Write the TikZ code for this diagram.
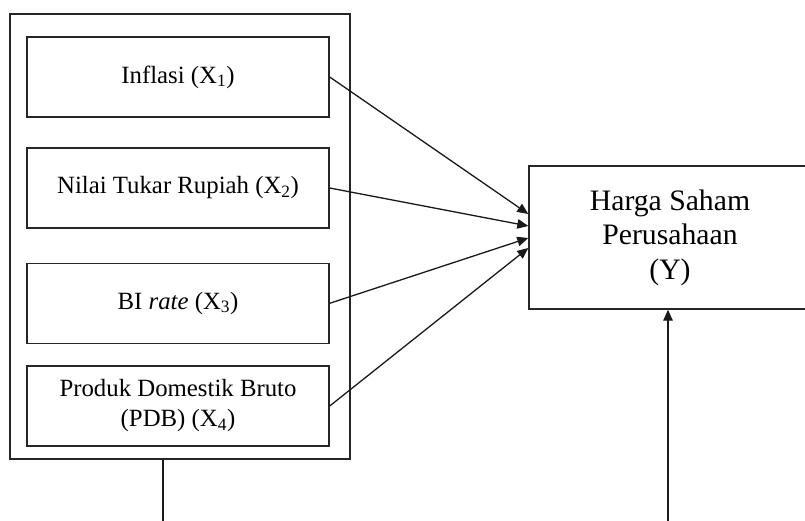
\documentclass[tikz,border=0pt]{standalone}
\usepackage{fontspec}
\setmainfont{Liberation Serif}
\usetikzlibrary{calc,arrows.meta}
\begin{document}
\begin{tikzpicture}[x=1pt,y=-1pt,
  box/.style={draw=black!85,line width=1.4pt,rectangle,inner sep=0pt,align=center},
  varbox/.style={box,minimum width=302pt,minimum height=80pt,font=\fontsize{24.8}{30}\selectfont},
  link/.style={draw=black!90,line width=1.3pt,-{Triangle[length=11pt,width=9.5pt]}}]
\useasboundingbox (0,0) rectangle (805,521);
\clip (0,0) rectangle (805,521);
\node[box,minimum width=340pt,minimum height=445pt] (outer) at (180,236.5) {};
\node[varbox] (b1) at (178,77) {Inflasi (X\textsubscript{1})};
\node[varbox] (b2) at (178,188) {Nilai Tukar Rupiah (X\textsubscript{2})};
\node[varbox] (b3) at (178,303.3) {BI \textit{rate} (X\textsubscript{3})};
\node[varbox] (b4) at (178,406) {Produk Domestik Bruto\\(PDB) (X\textsubscript{4})};
\node[box,minimum width=282pt,minimum height=143pt,font=\fontsize{29.7}{34.5}\selectfont] (y) at (670,237.5) {Harga Saham\\Perusahaan\\(Y)};
\coordinate (c1) at (163,525);
\coordinate (c2) at (668,525);
\draw[link] (b1.east) -- ($(y.west)+(0,-23.5)$);
\draw[link] (b2.east) -- ($(y.west)+(0,-11.5)$);
\draw[link] (b3.east) -- ($(y.west)+(0,0.5)$);
\draw[link] (b4.east) -- ($(y.west)+(0,10.5)$);
\draw[draw=black!90,line width=1.3pt] ($(outer.south)+(-17,0)$) -- (c1);
\draw[link] (c2) -- ($(y.south)+(-2,0)$);
\end{tikzpicture}
\end{document}
